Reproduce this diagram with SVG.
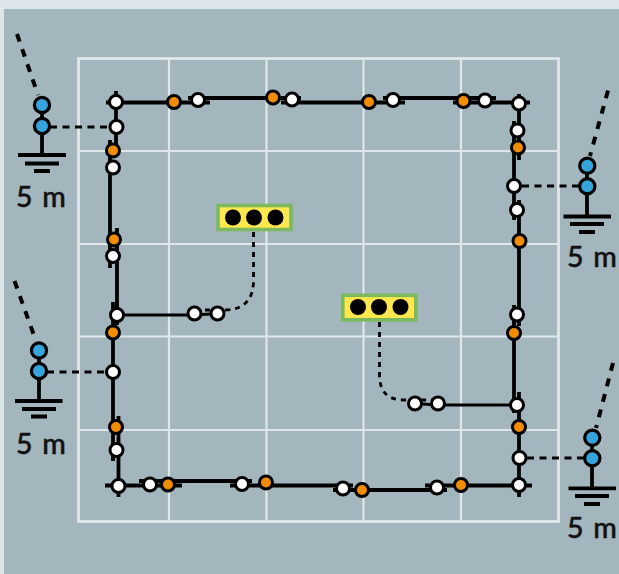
<svg xmlns="http://www.w3.org/2000/svg" width="619" height="574" viewBox="0 0 619 574">
<style>
.grid{fill:none;stroke:#dfe7eb;stroke-width:2.2}
.gridb{fill:none;stroke:#dfe7eb;stroke-width:2.8}
.line{fill:none;stroke:#000;stroke-width:3.8}
.thin{fill:none;stroke:#000;stroke-width:3.2}
.slant{fill:none;stroke:#000;stroke-width:4;stroke-dasharray:8 8}
.hdash{fill:none;stroke:#000;stroke-width:3.2;stroke-dasharray:7 5.500}
.dot{fill:none;stroke:#000;stroke-width:2.800;stroke-dasharray:5 5}
.w{fill:#fff;stroke:#000;stroke-width:3}
.o{fill:#f28c00;stroke:#000;stroke-width:3}
.b{fill:#35a4dc;stroke:#000;stroke-width:3.200}
.box{fill:#ffe84d;stroke:#7cb85e;stroke-width:3.600}
.k{fill:#000}
text{font-family:"Lato","Open Sans",sans-serif;font-size:28.500px;font-weight:500;word-spacing:2.500px;fill:#111;text-anchor:middle;stroke:#111;stroke-width:.5}
</style>
<rect width="619" height="574" fill="#dce5ea"/>
<rect x="4" y="9" width="615" height="565" fill="#a4b6bd"/>
<g id="grid">
<path class="grid" d="M169 59V521M266.500 59V521M363.500 59V521M461 59V521M79 151H558.500M79 244H558.500M79 336.500H558.500M79 430H558.500"/>
<rect class="gridb" x="78.500" y="58.500" width="480" height="463"/>
</g>
<g id="connectors">
<path class="line" d="M106 102.500H210M188 98H301M281 102.500H405M383 98H496M453 102.500H530"/>
<path class="line" d="M519 94V160M514 121V220M519 200V326M514 305V413M519 392V497"/>
<path class="line" d="M105 485.500H182M139 481H252M230 485.500H353M333 490H447M425 485.500H532"/>
<path class="line" d="M116 91V151M110 140V268M117 228V325M113 302V461M118.500 416V497"/>
<path class="thin" d="M117 315H195L218 313.500"/>
<path class="thin" d="M517 405H438L415 403.500"/>
<path class="dot" d="M253.500 232V280Q253.500 310 224 310H203"/>
<path class="dot" d="M379.500 322V375Q379.500 400 404 400H432"/>
<path class="slant" d="M17 34L38 95"/>
<path class="slant" d="M608 90.500L590 156"/>
<path class="slant" d="M14.500 281L36 341"/>
<path class="slant" d="M613 363L596 428"/>
<path class="hdash" d="M50 127H116"/>
<path class="hdash" d="M522 186H580"/>
<path class="hdash" d="M47 372H113"/>
<path class="hdash" d="M527 458H585"/>
</g>
<g id="ground-1"><path class="line" d="M42 105V155M18 155H66M25 163.500H59M34 171H50"/><circle class="b" cx="42" cy="105" r="7.600"/><circle class="b" cx="42" cy="126" r="7.600"/><text x="41" y="207">5 m</text></g>
<g id="ground-2"><path class="line" d="M587 166V216M563.500 216.500H611M570 224H604M579 232H595"/><circle class="b" cx="587.300" cy="165.700" r="7.600"/><circle class="b" cx="587.300" cy="186.300" r="7.600"/><text x="592" y="267">5 m</text></g>
<g id="ground-3"><path class="line" d="M39 351V401M15 401H62.500M22 409H56M31 416.500H47"/><circle class="b" cx="39" cy="350.500" r="7.600"/><circle class="b" cx="39" cy="371" r="7.600"/><text x="41" y="453.500">5 m</text></g>
<g id="ground-4"><path class="line" d="M592 438V488M568.500 488.300H616M575 496H609M584 504H600"/><circle class="b" cx="592.300" cy="437.700" r="7.600"/><circle class="b" cx="592.300" cy="458.300" r="7.600"/><text x="592" y="537.500">5 m</text></g>
<g id="box-1"><rect class="box" x="218" y="205.500" width="73" height="24"/><circle class="k" cx="233" cy="217.500" r="8"/><circle class="k" cx="254" cy="217.500" r="8"/><circle class="k" cx="275.500" cy="217.500" r="8"/></g>
<g id="box-2"><rect class="box" x="342.800" y="295.300" width="73" height="24.500"/><circle class="k" cx="358" cy="307" r="8"/><circle class="k" cx="379" cy="307" r="8"/><circle class="k" cx="400.500" cy="307" r="8"/></g>
<g id="nodes-top">
<circle id="t1" class="w" cx="116" cy="102" r="6.500"/><circle id="t2" class="o" cx="174" cy="102" r="6.500"/><circle id="t3" class="w" cx="198" cy="100" r="6.500"/><circle id="t4" class="o" cx="273" cy="97.500" r="6.500"/><circle id="t5" class="w" cx="292" cy="99.500" r="6.500"/><circle id="t6" class="o" cx="369" cy="102" r="6.500"/><circle id="t7" class="w" cx="393" cy="100" r="6.500"/><circle id="t8" class="o" cx="463.500" cy="101" r="6.500"/><circle id="t9" class="w" cx="485" cy="100.500" r="6.500"/><circle id="t10" class="w" cx="519" cy="103.500" r="6.500"/>
</g>
<g id="nodes-right">
<circle id="r1" class="w" cx="517.500" cy="130.500" r="6.500"/><circle id="r3" class="w" cx="514" cy="186" r="6.500"/><circle id="r2" class="o" cx="518" cy="147.500" r="6.500"/><circle id="r4" class="w" cx="517" cy="210" r="6.500"/><circle id="r5" class="o" cx="519.500" cy="241" r="6.500"/><circle id="r6" class="w" cx="517" cy="314.500" r="6.500"/><circle id="r7" class="o" cx="514" cy="333" r="6.500"/><circle id="r8" class="w" cx="517" cy="405" r="6.500"/><circle id="r9" class="o" cx="519" cy="427" r="6.500"/><circle id="r10" class="w" cx="519.500" cy="458" r="6.500"/>
</g>
<g id="nodes-bottom">
<circle id="b1" class="w" cx="118.500" cy="486" r="6.500"/><circle id="b2" class="w" cx="150" cy="484.500" r="6.500"/><circle id="b3" class="o" cx="168" cy="484.500" r="6.500"/><circle id="b4" class="w" cx="242" cy="484" r="6.500"/><circle id="b5" class="o" cx="266" cy="482.500" r="6.500"/><circle id="b6" class="w" cx="343" cy="488.500" r="6.500"/><circle id="b7" class="o" cx="362" cy="490" r="6.500"/><circle id="b8" class="w" cx="437" cy="487.500" r="6.500"/><circle id="b9" class="o" cx="461" cy="485" r="6.500"/><circle id="b10" class="w" cx="519" cy="485" r="6.500"/>
</g>
<g id="nodes-left">
<circle id="l1" class="w" cx="116.500" cy="127" r="6.500"/><circle id="l3" class="w" cx="113" cy="167.500" r="6.500"/><circle id="l2" class="o" cx="113" cy="150.500" r="6.500"/><circle id="l5" class="w" cx="113" cy="256" r="6.500"/><circle id="l4" class="o" cx="114" cy="239.500" r="6.500"/><circle id="l6" class="w" cx="117" cy="315" r="6.500"/><circle id="l7" class="o" cx="113" cy="332.500" r="6.500"/><circle id="l8" class="w" cx="113" cy="372" r="6.500"/><circle id="l9" class="o" cx="116" cy="427" r="6.500"/><circle id="l10" class="w" cx="116.500" cy="450" r="6.500"/>
</g>
<g id="nodes-branch">
<circle id="n1" class="w" cx="194.500" cy="313.500" r="6.500"/><circle id="n2" class="w" cx="217.500" cy="313.500" r="6.500"/><circle id="n3" class="w" cx="415" cy="403.500" r="6.500"/><circle id="n4" class="w" cx="438" cy="403.500" r="6.500"/>
</g>
</svg>
